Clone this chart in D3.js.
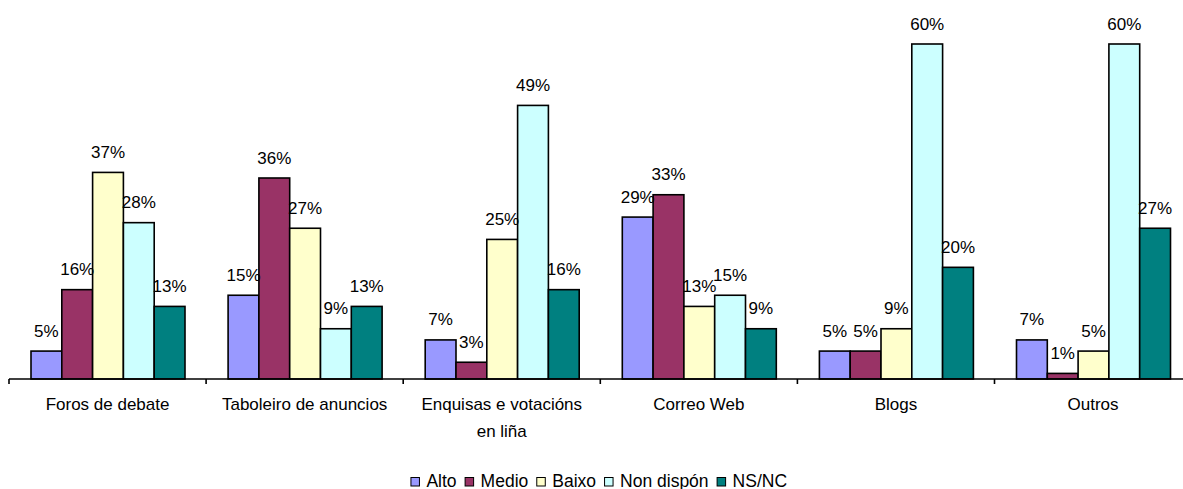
<!DOCTYPE html>
<html>
<head>
<meta charset="utf-8">
<script src="https://cdn.jsdelivr.net/npm/d3@7"></script>
<style>
  body { margin: 0; background: #fff; }
  svg text { font-family: Arial, "Liberation Sans", sans-serif; fill: #000; }
</style>
</head>
<body>
<svg id="chart" width="1183" height="489"></svg>
<script>
// categories (x axis), series and values (%)
var categories = ["Foros de debate", "Taboleiro de anuncios", "Enquisas e votacións en liña", "Correo Web", "Blogs", "Outros"]
var series = ["Alto", "Medio", "Baixo", "Non dispón", "NS/NC"]
var colors = ["#9999FF", "#993366", "#FFFFCC", "#CCFFFF", "#008080"]
var alto = [5, 15, 7, 29, 5, 7]
var medio = [16, 36, 3, 33, 5, 1]
var baixo = [37, 27, 25, 13, 9, 5]
var nonDispon = [28, 9, 49, 15, 60, 60]
var nsnc = [13, 13, 16, 9, 20, 27]
var values = [alto, medio, baixo, nonDispon, nsnc]

var svg = d3.select("#chart"),
	baseY = 379,
	catW = 197.1

var x0 = d3.scaleBand()
	.domain(d3.range(categories.length))
	.range([9, 9 + catW * categories.length])
	.padding(0)

var x1 = d3.scaleBand()
	.domain(d3.range(series.length))
	.range([22, 176])
	.padding(0)

var y = d3.scaleLinear()
	.domain([0, 60])
	.range([baseY, 44])

// bars
var groups = svg.selectAll("g.cat")
	.data(categories)
	.enter().append("g")
	.attr("class", "cat")
	.attr("transform", function(d, i) { return "translate(" + x0(i) + ",0)"; })

groups.each(function(c, ci) {
	var g = d3.select(this)
	series.forEach(function(s, si) {
		var v = values[si][ci]
		g.append("rect")
			.attr("x", x1(si))
			.attr("y", y(v))
			.attr("width", x1.bandwidth())
			.attr("height", baseY - y(v))
			.attr("fill", colors[si])
			.attr("stroke", "#000")
			.attr("stroke-width", 1.6)
	})
	series.forEach(function(s, si) {
		var v = values[si][ci]
		g.append("text")
			.attr("x", x1(si) + x1.bandwidth() / 2)
			.attr("y", y(v) - 14.5)
			.attr("text-anchor", "middle")
			.style("font-size", "17px")
			.text(v + "%")
	})
})

// x axis
var axis = d3.axisBottom(x0).tickSize(0).tickFormat("")
var ax = svg.append("g")
	.attr("transform", "translate(0," + baseY + ")")
	.call(axis)
ax.select(".domain").attr("stroke", "#000").attr("stroke-width", 1.6)
	.attr("d", "M9,0H1183")
ax.selectAll(".sep")
	.data(d3.range(categories.length + 1))
	.enter().append("line")
	.attr("x1", function(d) { return 9 + d * catW; })
	.attr("x2", function(d) { return 9 + d * catW; })
	.attr("y1", 0)
	.attr("y2", 5)
	.attr("stroke", "#000")
	.attr("stroke-width", 1.6)

// category labels (wrap the long one)
var catLines = [["Foros de debate"], ["Taboleiro de anuncios"], ["Enquisas e votacións", "en liña"], ["Correo Web"], ["Blogs"], ["Outros"]]
categories.forEach(function(c, i) {
	var t = svg.append("text")
		.attr("x", x0(i) + x0.bandwidth() / 2)
		.attr("y", 410)
		.attr("text-anchor", "middle")
		.style("font-size", "17px")
	catLines[i].forEach(function(l, li) {
		t.append("tspan")
			.attr("x", x0(i) + x0.bandwidth() / 2)
			.attr("dy", li == 0 ? 0 : 27)
			.text(l)
	})
})

// legend, centred under the plot
var leg = svg.append("g")
var lx = 0
series.forEach(function(s, si) {
	leg.append("rect")
		.attr("x", lx)
		.attr("y", 477.5)
		.attr("width", 8.5)
		.attr("height", 8.5)
		.attr("fill", colors[si])
		.attr("stroke", "#000")
		.attr("stroke-width", 1)
	var t = leg.append("text")
		.attr("x", lx + 15.5)
		.attr("y", 486.5)
		.style("font-size", "17.5px")
		.text(s)
	lx += 15.5 + t.node().getComputedTextLength() + (si < series.length - 1 ? 8.5 : 0)
})
leg.attr("transform", "translate(" + (599 - lx / 2) + ",0)")
</script>
</body>
</html>
